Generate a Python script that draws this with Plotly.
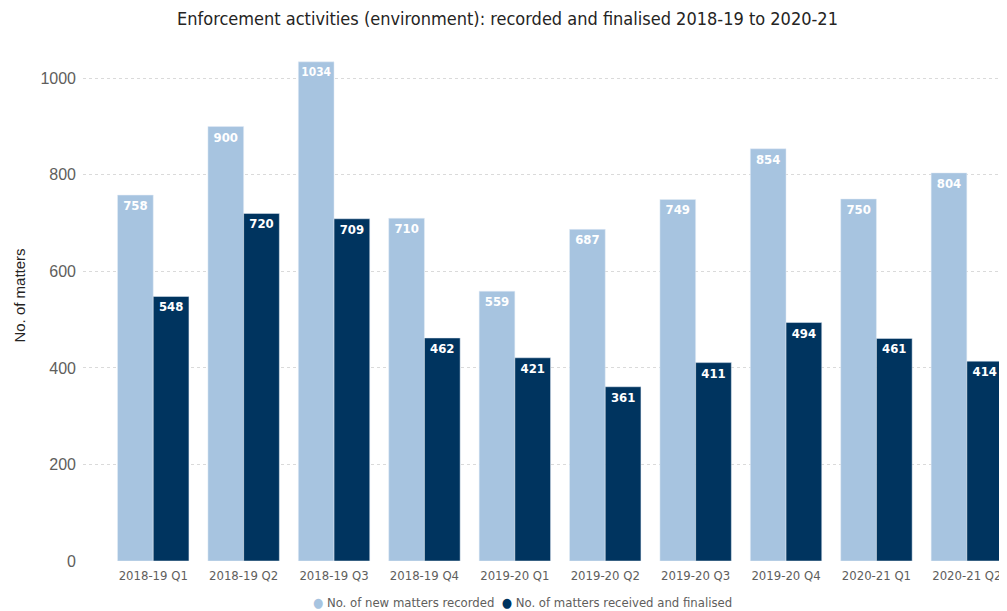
import plotly.graph_objects as go

quarters = ["2018-19 Q1", "2018-19 Q2", "2018-19 Q3", "2018-19 Q4", "2019-20 Q1",
            "2019-20 Q2", "2019-20 Q3", "2019-20 Q4", "2020-21 Q1", "2020-21 Q2"]
new_recorded = [758, 900, 1034, 710, 559, 687, 749, 854, 750, 804]
finalised = [548, 720, 709, 462, 421, 361, 411, 494, 461, 414]
series_names = ["No. of new matters recorded", "No. of matters received and finalised"]

light = "#A7C4E0"
dark = "#00345F"
narrow = "Liberation Sans Narrow, DejaVu Sans Condensed, Arial Narrow, sans-serif"

fig = go.Figure()
for name, vals, col in [(series_names[0], new_recorded, light),
                        (series_names[1], finalised, dark)]:
    fig.add_trace(go.Bar(
        x=quarters, y=vals, name=name, marker_color=col, showlegend=False,
        text=vals, textposition="inside", insidetextanchor="end",
        textfont=dict(color="white", size=13, family=narrow),
        texttemplate="<b>%{text}</b>", textangle=0,
    ))

# legend drawn as one line of text with coloured dots, like the original
legend_text = (f"<span style='color:{light}'>●</span>&nbsp;{series_names[0]}&nbsp;&nbsp;"
               f"<span style='color:{dark}'>●</span>&nbsp;{series_names[1]}")
fig.add_annotation(
    text=legend_text, xref="paper", yref="paper", x=0.478, y=-0.079,
    xanchor="center", yanchor="middle", showarrow=False,
    font=dict(family=narrow, size=13, color="#605E5C"),
)

# page body has an 8px margin, so the figure is a bit smaller than the window
fig.update_layout(
    width=999, height=603,
    margin=dict(l=75, r=4, t=22, b=50, autoexpand=False),
    paper_bgcolor="white", plot_bgcolor="white",
    barmode="group", bargap=0.21, bargroupgap=0,
    showlegend=False,
    title=dict(text="Enforcement activities (environment): recorded and finalised 2018-19 to 2020-21",
               x=0.5, xanchor="center", y=0.982, yanchor="middle",
               font=dict(family=narrow, size=18, color="#252423")),
    font=dict(family="Open Sans, sans-serif"),
)
fig.update_xaxes(
    range=[-0.777, 9.4], showgrid=False, showline=False, ticks="",
    automargin=False, ticklabelstandoff=5,
    tickfont=dict(family=narrow, size=13, color="#605E5C"),
)
fig.update_yaxes(
    range=[0, 1100], tickvals=[0, 200, 400, 600, 800, 1000],
    showgrid=True, gridcolor="#DADADA", griddash="dot", gridwidth=1,
    zeroline=False, showline=False, ticks="", automargin=False,
    tickfont=dict(family="Liberation Sans, sans-serif", size=16, color="#605E5C"),
    ticklabelstandoff=6,
    title=dict(text="No. of matters", standoff=11,
               font=dict(family="Liberation Sans, sans-serif", size=15, color="#252423")),
)

fig.write_html("out.html")
